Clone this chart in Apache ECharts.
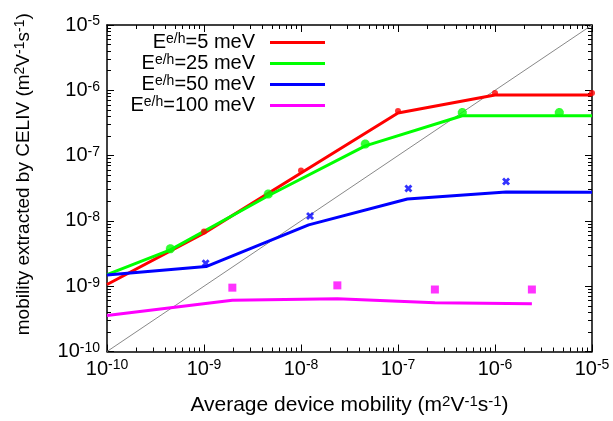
<!DOCTYPE html>
<html><head><meta charset="utf-8">
<script src="https://cdn.jsdelivr.net/npm/echarts@6/dist/echarts.min.js"></script>
<style>html,body{margin:0;padding:0;background:#fff}#c{width:613px;height:421px}</style>
</head><body><div id="c"></div>
<script>
// ---- data ----
const energies = ['5', '25', '50', '100'];

const redLineX = [1e-10, 1e-9, 1e-8, 1e-7, 1e-6, 1e-5];
const redLineY = [1.06e-9, 6.5e-9, 5.4e-8, 4.5e-7, 8.5e-7, 8.5e-7];
const redPtsX = [1e-9, 1e-8, 1e-7, 1e-6, 1e-5];
const redPtsY = [6.9e-9, 5.9e-8, 4.8e-7, 9.1e-7, 9.1e-7];

const greenLineX = [1e-10, 4.5e-10, 4.6e-9, 4.6e-8, 4.6e-7, 1e-5];
const greenLineY = [1.5e-9, 3.6e-9, 2.43e-8, 1.41e-7, 4.07e-7, 4.07e-7];
const greenPtsX = [4.5e-10, 4.6e-9, 4.6e-8, 4.6e-7, 4.6e-6];
const greenPtsY = [3.76e-9, 2.58e-8, 1.5e-7, 4.56e-7, 4.56e-7];

const blueLineX = [1e-10, 1.05e-9, 1.2e-8, 1.25e-7, 1.3e-6, 1e-5];
const blueLineY = [1.48e-9, 2.0e-9, 8.7e-9, 2.16e-8, 2.77e-8, 2.75e-8];
const bluePtsX = [1.04e-9, 1.24e-8, 1.28e-7, 1.3e-6];
const bluePtsY = [2.24e-9, 1.19e-8, 3.14e-8, 4.02e-8];

const magLineX = [1e-10, 1.96e-9, 2.37e-8, 2.4e-7, 2.4e-6];
const magLineY = [3.55e-10, 6.1e-10, 6.45e-10, 5.56e-10, 5.4e-10];
const magPtsX = [1.96e-9, 2.37e-8, 2.4e-7, 2.4e-6];
const magPtsY = [9.5e-10, 1.03e-9, 8.9e-10, 8.9e-10];

const diagX = [1e-10, 1e-5];
const diagY = [1e-10, 1e-5];

const decadeExponents = [-10, -9, -8, -7, -6, -5];

// ---- helpers ----
const zip = (xs, ys) => xs.map((x, i) => [x, ys[i]]);
// minor tick positions, in log10 units (for the decorative value axes)
const minorTicksLog = [];
decadeExponents.slice(0, -1).forEach(e => {
  for (let k = 2; k <= 9; k++) minorTicksLog.push(e + Math.log10(k));
});
const seriesNames = energies.map(e => 'E^{e/h}=' + e + ' meV');
const colors = ['#ff0000', '#00ff00', '#0000ff', '#ff00ff'];

const FONT = 'Liberation Sans';
function mkRich(size, sup, lh) {
  return {
    b: { fontFamily: FONT, fontSize: size, color: '#000', lineHeight: lh },
    s: { fontFamily: FONT, fontSize: sup, color: '#000', lineHeight: sup, verticalAlign: 'top' }
  };
}
const rich = mkRich(20, 14, 21);
const legendRich = mkRich(20, 14, 21);
const xNameRich = mkRich(21, 15, 22);
const yNameRich = mkRich(19, 14, 21);

const tickLabel = v => {
  const e = Math.round(Math.log10(v));
  return '{b|10}{s|' + e + '}';
};

const plusPath = 'M-1,-3L1,-3L1,-1L3,-1L3,1L1,1L1,3L-1,3L-1,1L-3,1L-3,-1L-1,-1Z';
const xPath = 'M1.414,-2.828L2.828,-1.414L1.414,0L2.828,1.414L1.414,2.828L0,1.414L-1.414,2.828L-2.828,1.414L-1.414,0L-2.828,-1.414L-1.414,-2.828L0,-1.414Z';
const starPath = 'path://' + plusPath + xPath;
const crossPath = 'path://' + xPath;

function mkLog(pos, opts) {
  return Object.assign({
    type: 'log', logBase: 10, min: 1e-10, max: 1e-5, position: pos,
    axisLine: { show: false }, splitLine: { show: false },
    axisLabel: { show: false }, axisTick: { show: false }
  }, opts);
}
// decorative linear axis in log10 units used only for minor ticks
function mkMinor(pos) {
  return {
    type: 'value', min: -10, max: -5, position: pos,
    axisLine: { show: false }, splitLine: { show: false }, axisLabel: { show: false },
    axisTick: { show: true, inside: true, length: 4, lineStyle: { color: '#000', width: 1 }, customValues: minorTicksLog }
  };
}

const tickLine = { color: '#000', width: 1 };
const axisLineStyle = { show: true, onZero: false, lineStyle: { color: '#000', width: 1.5 } };

const xAxes = [
  mkLog('bottom', {
    axisLine: axisLineStyle,
    axisTick: { show: true, inside: true, length: 7, lineStyle: tickLine },
    axisLabel: { show: true, margin: 7, formatter: tickLabel, rich: rich },
    name: '{b|Average device mobility (m}{s|2}{b|V}{s|-1}{b|s}{s|-1}{b|)}',
    nameLocation: 'middle', nameGap: 43,
    nameTextStyle: { rich: xNameRich }
  }),
  mkMinor('bottom'),
  mkLog('top', { axisLine: axisLineStyle, axisTick: { show: true, inside: true, length: 7, lineStyle: tickLine } }),
  mkMinor('top')
];
const yAxes = [
  mkLog('left', {
    axisLine: axisLineStyle,
    axisTick: { show: true, inside: true, length: 7, lineStyle: tickLine },
    axisLabel: { show: true, margin: 7, formatter: tickLabel, rich: rich },
    name: '{b|mobility extracted by CELIV (m}{s|2}{b|V}{s|-1}{b|s}{s|-1}{b|)}',
    nameLocation: 'middle', nameGap: 73,
    nameTextStyle: { rich: yNameRich, padding: [0, 0, 0, 28] }
  }),
  mkMinor('left'),
  mkLog('right', { axisLine: axisLineStyle, axisTick: { show: true, inside: true, length: 7, lineStyle: tickLine } }),
  mkMinor('right')
];

const lineSets = [
  [redLineX, redLineY], [greenLineX, greenLineY], [blueLineX, blueLineY], [magLineX, magLineY]
];
const ptSets = [
  [redPtsX, redPtsY, 'circle', 6],
  [greenPtsX, greenPtsY, starPath, 9],
  [bluePtsX, bluePtsY, crossPath, 8],
  [magPtsX, magPtsY, 'rect', 8]
];

const series = [{
  type: 'line', name: 'diag', data: zip(diagX, diagY), symbol: 'none',
  lineStyle: { color: '#888', width: 1 }, silent: true, z: 1
}];
lineSets.forEach((s, i) => {
  series.push({
    type: 'line', name: seriesNames[i], data: zip(s[0], s[1]), symbol: 'none',
    color: colors[i], lineStyle: { color: colors[i], width: 3 }, z: 2
  });
});
ptSets.forEach((s, i) => {
  series.push({
    type: 'scatter', name: 'pts' + i, data: zip(s[0], s[1]),
    symbol: s[2], symbolSize: s[3], itemStyle: { color: colors[i] }, z: 3
  });
});

const chart = echarts.init(document.getElementById('c'), null, { renderer: 'canvas' });
chart.setOption({
  animation: false,
  backgroundColor: '#fff',
  textStyle: { fontFamily: FONT },
  grid: { left: 107, right: 21, top: 25, bottom: 69, containLabel: false },
  xAxis: xAxes,
  yAxis: yAxes,
  legend: {
    data: seriesNames, orient: 'vertical', align: 'right', padding: 0,
    right: 288, top: 32, itemGap: 0.5, itemWidth: 55, itemHeight: 3, icon: 'rect',
    formatter: name => {
      const e = name.match(/=(\d+)/)[1];
      return '{b|E}{s|e/h}{b|=' + e + ' meV}';
    },
    textStyle: { rich: legendRich, padding: [0, 10, 0, 0] }
  },
  series: series
});
</script>
</body></html>
